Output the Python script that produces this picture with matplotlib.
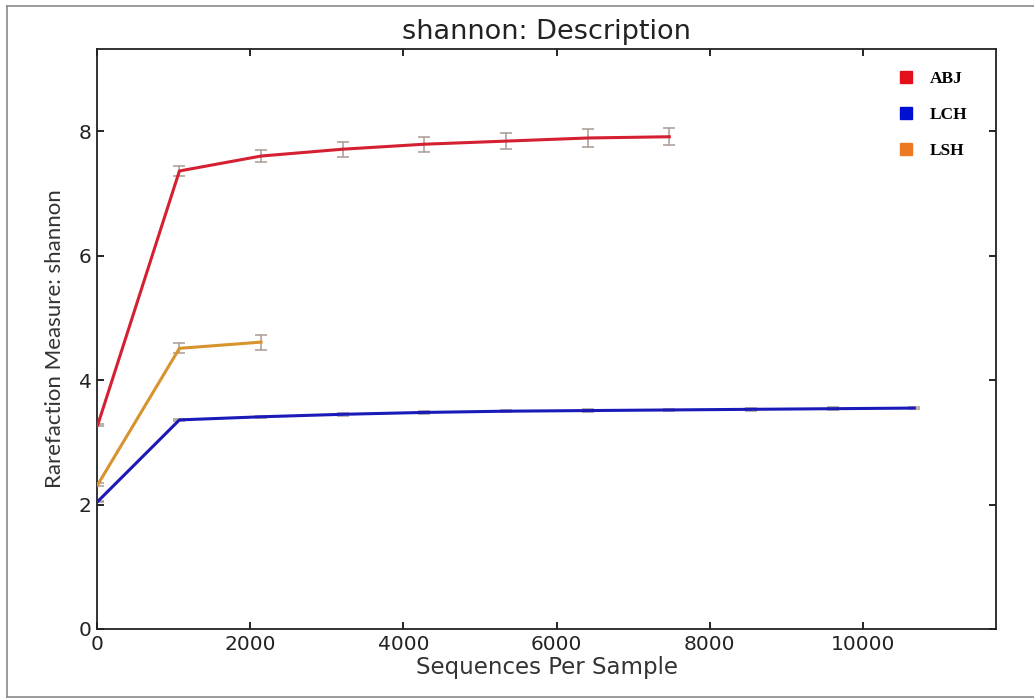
import matplotlib.pyplot as plt
from matplotlib.lines import Line2D

# rarefaction depths (sequences per sample)
depths = [10, 1076, 2142, 3208, 4274, 5340, 6406, 7472, 8538, 9604, 10670]

# ABJ
abj_x = depths[:8]
abj_y = [3.28, 7.36, 7.60, 7.71, 7.79, 7.84, 7.89, 7.91]
abj_err = [0.02, 0.08, 0.10, 0.12, 0.12, 0.13, 0.14, 0.14]

# LCH
lch_x = depths
lch_y = [2.05, 3.36, 3.41, 3.45, 3.48, 3.50, 3.51, 3.52, 3.53, 3.54, 3.55]
lch_err = [0.01, 0.02, 0.02, 0.02, 0.02, 0.02, 0.02, 0.02, 0.02, 0.02, 0.02]

# LSH
lsh_x = depths[:3]
lsh_y = [2.32, 4.51, 4.61]
lsh_err = [0.02, 0.08, 0.12]

labels = ["ABJ", "LCH", "LSH"]
line_colors = ["#d42030", "#1a1ab8", "#d8922e"]
legend_colors = ["#e3101c", "#0010d0", "#ec7a22"]

fig = plt.figure(figsize=(10.34, 7.0), dpi=100)
ax = fig.add_axes([97 / 1034, 1 - 629 / 700, (996 - 97) / 1034, (629 - 49) / 700])

series = [(abj_x, abj_y, abj_err), (lch_x, lch_y, lch_err), (lsh_x, lsh_y, lsh_err)]
for (x, y, e), c in zip(series, line_colors):
    ax.errorbar(x, y, yerr=e, color=c, lw=2.2, ecolor="#a89a92",
                elinewidth=1.1, capsize=4, capthick=1.1, zorder=3)

ax.set_xlim(0, max(depths) * 1.1)
ax.set_ylim(0, 9.32)
ax.set_xticks([0, 2000, 4000, 6000, 8000, 10000])
ax.set_yticks([0, 2, 4, 6, 8])
ax.tick_params(direction="in", top=True, right=True, length=5, width=1.2,
               labelsize=14.5, pad=4, labelcolor="#222222")
for s in ax.spines.values():
    s.set_linewidth(1.3)
    s.set_color("#222222")

ax.set_title("shannon: Description", fontsize=19.5, color="#222222", pad=7)
ax.set_xlabel("Sequences Per Sample", fontsize=16.5, color="#333333", labelpad=2)
ax.set_ylabel("Rarefaction Measure: shannon", fontsize=16, family="Lato",
              color="#333333", labelpad=10)

handles = [Line2D([], [], marker="s", ls="none", color=c, markersize=9) for c in legend_colors]
ax.legend(handles, labels, loc="upper right", bbox_to_anchor=(0.986, 0.99),
          frameon=False, labelspacing=1.15, handletextpad=0.4,
          prop={"family": "Liberation Serif", "weight": "bold", "size": 12.5})

# thin gray frame around the picture
for xs, ys in [((7 / 1034, 7 / 1034), (1 - 6 / 700, 1 - 697 / 700)),
               ((7 / 1034, 1.0), (1 - 6 / 700, 1 - 6 / 700)),
               ((7 / 1034, 1.0), (1 - 697 / 700, 1 - 697 / 700))]:
    fig.add_artist(Line2D(xs, ys, color="#8a8a8a", lw=1.2))

fig.savefig("out.png", dpi=100)
